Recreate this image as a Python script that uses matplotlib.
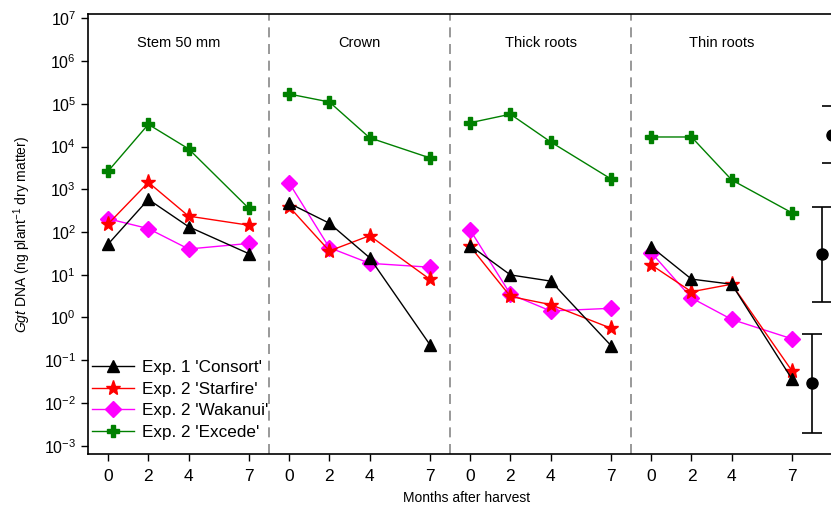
import matplotlib
matplotlib.use("Agg")
import matplotlib.pyplot as plt
import numpy as np
from matplotlib.ticker import FixedLocator, LogFormatterSciNotation, NullLocator

plt.rcParams['font.family'] = ['Liberation Sans', 'DejaVu Sans']
plt.rcParams['mathtext.fontset'] = 'custom'
plt.rcParams['mathtext.rm'] = 'Liberation Sans'
plt.rcParams['mathtext.it'] = 'Liberation Sans:italic'
plt.rcParams['mathtext.bf'] = 'Liberation Sans:bold'
plt.rcParams['axes.unicode_minus'] = False

# ---- data ----
months = [0, 2, 4, 7]
tissues = ["Stem 50 mm", "Crown", "Thick roots", "Thin roots"]
panel_step = 9  # spacing (months units) between panels on the shared axis
y_decades = [-3, -2, -1, 0, 1, 2, 3, 4, 5, 6, 7]

# values per tissue, in order Stem, Crown, Thick roots, Thin roots (4 months each)
consort = [52, 580, 133, 31,
           470, 160, 25, 0.23,
           48, 9.9, 7.1, 0.22,
           45, 7.9, 6.0, 0.036]
starfire = [154, 1450, 235, 144,
            390, 36, 82, 7.8,
            46, 3.1, 2.0, 0.56,
            17, 4.0, 6.0, 0.056]
wakanui = [204, 120, 40, 54,
           1400, 43, 18.5, 15,
           111, 3.5, 1.42, 1.64,
           33, 2.86, 0.9, 0.316]
excede = [2650, 33000, 8800, 355,
          169000, 110000, 16000, 5400,
          36000, 57000, 12800, 1740,
          16700, 16700, 1650, 280]

series_names = ["Exp. 1 'Consort'", "Exp. 2 'Starfire'", "Exp. 2 'Wakanui'", "Exp. 2 'Excede'"]

# reference error bars at right (center, low, high)
err_x = [36.0, 35.5, 35.0]
err_center = [18600, 30.6, 0.030]
err_low = [4040, 2.34, 0.0020]
err_high = [88700, 379, 0.41]

# ---- figure ----
fig = plt.figure(figsize=(8.31, 5.11), dpi=100)
ax = fig.add_axes([88/831, 1-454/511, (852.4-88)/831, 440/511])

styles = [
    dict(color='black', marker='^', markersize=9, mfc='black', mec='black'),
    dict(color='red', marker='*', markersize=11, mfc='red', mec='red'),
    dict(color='#ff00ff', marker='D', markersize=8, mfc='#ff00ff', mec='#ff00ff'),
    dict(color='green', marker='P', markersize=9, mfc='green', mec='green'),
]
data = [consort, starfire, wakanui, excede]

handles = []
for s, (vals, st) in enumerate(zip(data, styles)):
    for p in range(len(tissues)):
        xs = [m + p*panel_step for m in months]
        ys = vals[p*4:(p+1)*4]
        ln, = ax.plot(xs, ys, lw=1.0, zorder=3 + (3 - s) * 0.1, **st)
        if p == 0:
            handles.append(ln)

# error bars
yerr = [np.array(err_center) - np.array(err_low), np.array(err_high) - np.array(err_center)]
ax.errorbar(err_x, err_center, yerr=yerr, fmt='o', color='black', ms=8,
            capsize=7, elinewidth=1.2, capthick=1.2, zorder=4)

# dividers
for p in range(1, len(tissues)):
    ax.axvline(p*panel_step - 1, color='#888888', lw=1.2, ls=(0, (6, 4)), zorder=1)

# panel titles
for p, t in enumerate(tissues):
    ax.text(p*panel_step + 3.5, 0.934, t, transform=ax.get_xaxis_transform(),
            ha='center', va='center', fontsize=10.5)

ax.set_yscale('log')
ax.set_ylim(10**-3.194, 10**7.10)
ax.set_xlim(-1, 37)
ax.yaxis.set_major_locator(FixedLocator([10.0**d for d in y_decades]))
ax.yaxis.set_minor_locator(NullLocator())
ax.yaxis.set_major_formatter(LogFormatterSciNotation())

xt = [m + p*panel_step for p in range(len(tissues)) for m in months]
ax.set_xticks(xt)
ax.set_xticklabels([str(m) for p in range(len(tissues)) for m in months])

ax.tick_params(axis='y', direction='out', length=5, labelsize=11.5, width=1)
ax.tick_params(axis='x', direction='out', length=5, labelsize=12.5, width=1, pad=6)
for sp in ax.spines.values():
    sp.set_linewidth(1.2)

ax.set_ylabel(r"$\it{Ggt}$ DNA (ng plant$^{-1}$ dry matter)", fontsize=10)
ax.yaxis.set_label_coords(-0.072, 0.5)
ax.set_xlabel("Months after harvest", fontsize=10)
ax.xaxis.set_label_coords((467 - 88) / 764.4, -0.084)

leg = ax.legend(handles, series_names, loc='lower left', bbox_to_anchor=(-0.008, 0.009),
                frameon=False, fontsize=12.3, handlelength=2.45, handletextpad=0.45,
                labelspacing=0.38, borderaxespad=0.2)

fig.savefig("out.png", dpi=100)
